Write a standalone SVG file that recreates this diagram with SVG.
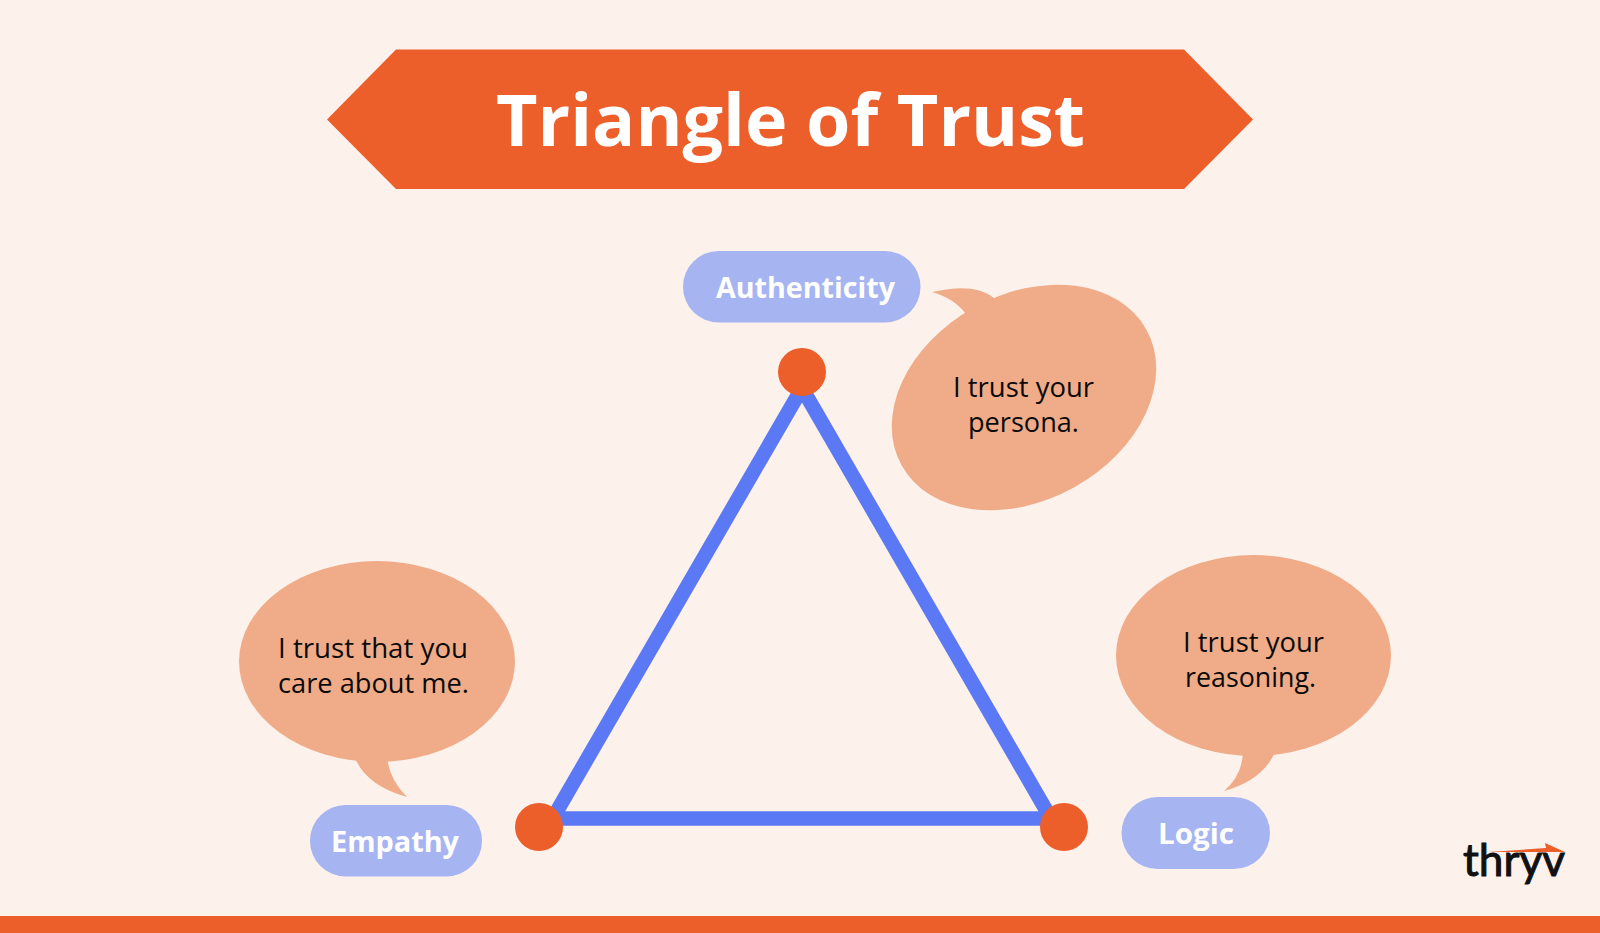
<svg xmlns="http://www.w3.org/2000/svg" width="1600" height="933" viewBox="0 0 1600 933">
<style>
.o{fill:#EC5E2A}
.b{fill:#F0AC88}
.p{fill:#A6B5F1}
.t{font-family:"Open Sans","Noto Sans",sans-serif;font-size:27px;fill:#0a0a0a}
.l{font-family:"Open Sans","Noto Sans",sans-serif;font-weight:700;font-size:29px;fill:#fff}
</style>
<rect width="1600" height="933" fill="#FDF1EB"/>
<rect class="o" y="916" width="1600" height="17"/>
<g id="title"><polygon class="o" points="327,119.500 396,49.500 1184,49.500 1253,119.500 1184,189 396,189"/>
<text x="496" y="146" textLength="589" lengthAdjust="spacingAndGlyphs" font-family="Open Sans, Noto Sans, sans-serif" font-weight="700" font-size="72" fill="#fff">Triangle of Trust</text></g>
<g id="connectors"><polygon points="802,388 1051,818.500 552.600,818.500" fill="none" stroke="#5C79F5" stroke-width="14.500"/></g>
<g id="node-authenticity"><circle class="o" cx="802" cy="372" r="24"/><rect class="p" x="683" y="251" width="237.500" height="71.500" rx="35.500"/>
<text class="l" x="716" y="298" textLength="179" lengthAdjust="spacingAndGlyphs">Authenticity</text></g>
<g id="node-empathy"><circle class="o" cx="539" cy="827" r="24"/><rect class="p" x="310" y="805" width="172" height="71.500" rx="35.500"/>
<text class="l" x="331" y="852" textLength="128" lengthAdjust="spacingAndGlyphs">Empathy</text></g>
<g id="node-logic"><circle class="o" cx="1064" cy="827" r="24"/><rect class="p" x="1121.500" y="797" width="148.500" height="72" rx="36"/>
<text class="l" x="1158" y="844" textLength="76" lengthAdjust="spacingAndGlyphs">Logic</text></g>
<g id="bubble-authenticity"><ellipse class="b" cx="1024" cy="397.500" rx="140" ry="103" transform="rotate(-29 1024 397.500)"/>
<path class="b" d="M932,292 Q975,282 994,298 L1000,330 L965,313 Q955,299 932,292Z"/>
<text class="t" x="953" y="397" textLength="141" lengthAdjust="spacingAndGlyphs">I trust your</text>
<text class="t" x="968" y="432" textLength="111" lengthAdjust="spacingAndGlyphs">persona.</text></g>
<g id="bubble-empathy"><ellipse class="b" cx="377" cy="661.500" rx="138" ry="100.500"/>
<path class="b" d="M354,755 Q364,785 407,797 Q388,778 387,755Z"/>
<text class="t" x="278" y="658" textLength="190" lengthAdjust="spacingAndGlyphs">I trust that you</text>
<text class="t" x="278" y="693" textLength="191" lengthAdjust="spacingAndGlyphs">care about me.</text></g>
<g id="bubble-logic"><ellipse class="b" cx="1253.500" cy="655.500" rx="137.500" ry="100.500"/>
<path class="b" d="M1243,750 Q1243,775 1224,791 Q1264,780 1276,750Z"/>
<text class="t" x="1183" y="652" textLength="141" lengthAdjust="spacingAndGlyphs">I trust your</text>
<text class="t" x="1185" y="687" textLength="131" lengthAdjust="spacingAndGlyphs">reasoning.</text></g>
<g id="logo"><polygon class="o" points="1488,852 1546,848 1545,843 1565,852"/>
<text x="1463" y="876" textLength="102" lengthAdjust="spacingAndGlyphs" font-family="Lato, Open Sans, sans-serif" font-weight="400" stroke="#111" stroke-width="1" font-size="44" fill="#111">thryv</text></g>
</svg>
